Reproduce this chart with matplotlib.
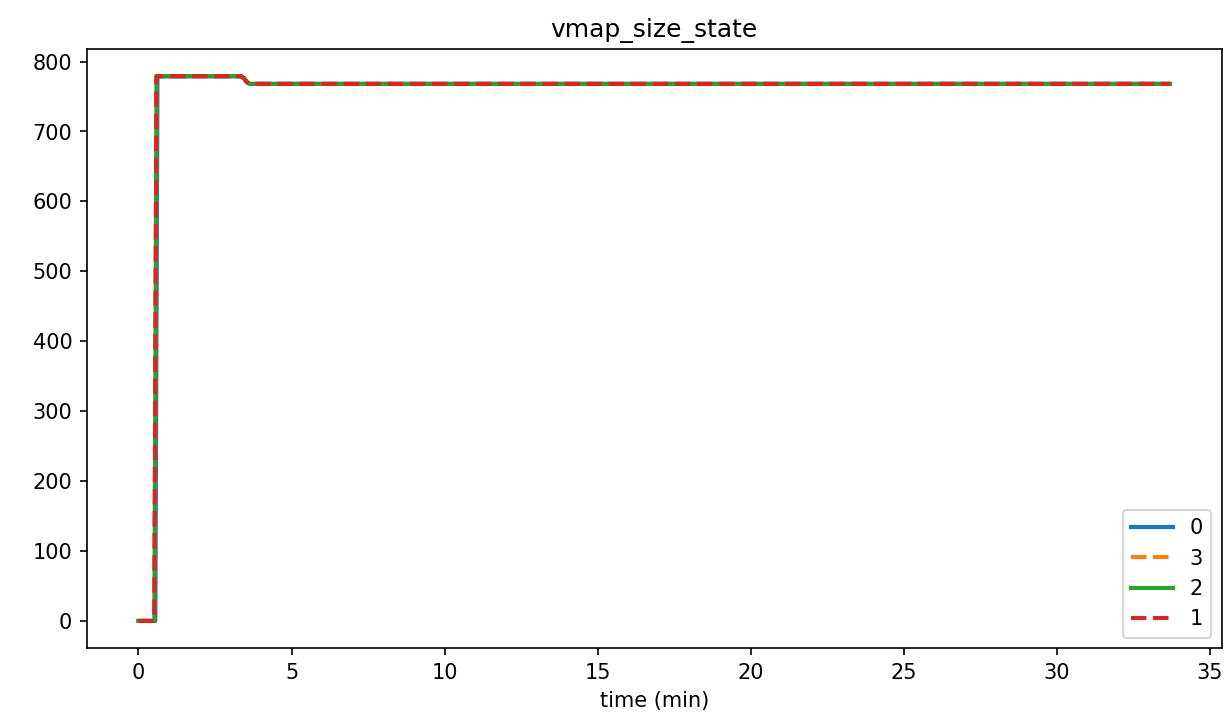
import matplotlib.pyplot as plt

# time (min) and vmap_size_state per node
t_0 = [0.0, 0.55, 0.62, 3.35, 3.45, 3.55, 3.65, 33.7]
v_0 = [0, 0, 779, 779, 776, 770, 768, 768]

t_3 = [0.0, 0.52, 0.59, 3.35, 3.45, 3.55, 3.65, 33.7]
v_3 = [0, 0, 779, 779, 776, 770, 768, 768]

t_2 = [0.0, 0.52, 0.59, 3.35, 3.45, 3.55, 3.65, 33.7]
v_2 = [0, 0, 779, 779, 776, 770, 768, 768]

t_1 = [0.0, 0.52, 0.59, 3.35, 3.45, 3.55, 3.65, 33.7]
v_1 = [0, 0, 779, 779, 776, 770, 768, 768]

fig, ax = plt.subplots(figsize=(8.16, 4.807), dpi=150)

ax.plot(t_0, v_0, '-', linewidth=2, color='#1f77b4', label='0')
ax.plot(t_3, v_3, '--', linewidth=2, color='#ff7f0e', label='3')
ax.plot(t_2, v_2, '-', linewidth=2, color='#2ca02c', label='2')
ax.plot(t_1, v_1, '--', linewidth=2, color='#d62728', label='1')

ax.set_title('vmap_size_state', fontsize=12)
ax.set_xlabel('time (min)', fontsize=10)
ax.tick_params(labelsize=10)
ax.legend(loc='lower right', fontsize=10)

plt.subplots_adjust(left=0.071, right=0.998, top=0.932, bottom=0.101)
plt.savefig('out.png', dpi=150)
